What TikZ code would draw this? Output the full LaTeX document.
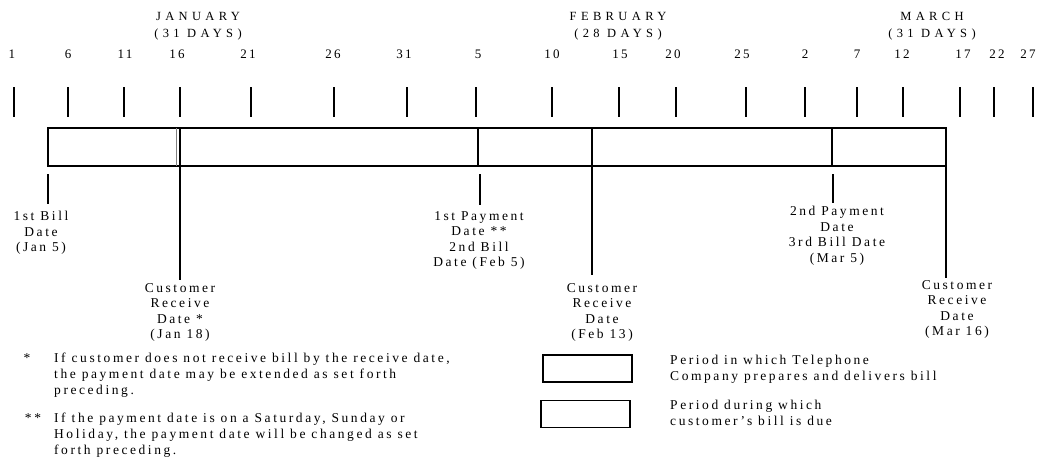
\documentclass[tikz,border=0pt]{standalone}
\usepackage{fontspec}
\setmainfont{Liberation Serif}
\newfontfamily\spacedfont[LetterSpace=19]{Liberation Serif}
\newfontfamily\monthfont[LetterSpace=35]{Liberation Serif}
\usetikzlibrary{positioning}

\begin{document}
\begin{tikzpicture}[x=1pt, y=-1pt,
    month/.style={font=\monthfont\fontsize{12.5}{17}\selectfont, align=center, inner sep=0pt, anchor=north},
    daynum/.style={font=\spacedfont\fontsize{13}{15}\selectfont, inner sep=0pt, anchor=base},
    datelabel/.style={font=\spacedfont\fontsize{13.5}{15.5}\selectfont, align=center, inner sep=0pt, anchor=north},
    note/.style={font=\spacedfont\fontsize{13.5}{16}\selectfont, align=left, inner sep=0pt, anchor=north west},
    daytick/.style={line width=1.1pt},
    barline/.style={line width=1.6pt},
    divider/.style={line width=1.2pt},
    legendbox/.style={draw, line width=1.5pt, minimum width=89pt, minimum height=27pt, inner sep=0pt}]

    \useasboundingbox (0,0) rectangle (1041,458);

    % Month headings
    \node[month] (jan) at (198,12) {JANUARY\\(31 DAYS)};
    \node[month] (feb) at (618,12) {FEBRUARY\\(28 DAYS)};
    \node[month] (mar) at (932,12) {MARCH\\(31 DAYS)};

    % Day numbers with their ticks
    \foreach \tx/\nx/\d in {14/12/1, 68/68/6, 124/125/11, 180/177/16, 251/248/21,
        334/333/26, 407/404/31, 476/478/5, 552/552/10, 619/620/15, 676/673/20,
        746/742/25, 805/805/2, 857/857/7, 903/902/12, 960/963/17, 994/997/22, 1033/1028/27} {
        \node[daynum] (day\d) at (\nx,58.5) {\d};
        \draw[daytick] (\tx,87) -- (\tx,117);
    }

    % Billing bar
    \draw[barline] (48,128) rectangle (946,166);
    \draw[thin, gray] (176,128) -- (176,166);
    \foreach \x in {478, 832} {
        \draw[divider] (\x,128) -- (\x,166);
    }

    % Dates marked under the bar
    \coordinate (bill1) at (48,174);
    \coordinate (pay1) at (480,174);
    \coordinate (pay2) at (833,174);
    \coordinate (recv1) at (180,127);
    \coordinate (recv2) at (592,128);
    \coordinate (recv3) at (946,128);

    \node[datelabel] (billlbl) at (41,211) {1st Bill\\Date\\(Jan 5)};
    \node[datelabel] (pay1lbl) at (479,211) {1st Payment\\Date **\\2nd Bill\\Date (Feb 5)};
    \node[datelabel] (pay2lbl) at (837,206) {2nd Payment\\Date\\3rd Bill Date\\(Mar 5)};
    \node[datelabel] (recv1lbl) at (180,283) {Customer\\Receive\\Date *\\(Jan 18)};
    \node[datelabel] (recv2lbl) at (602,283) {Customer\\Receive\\Date\\(Feb 13)};
    \node[datelabel] (recv3lbl) at (957,280) {Customer\\Receive\\Date\\(Mar 16)};

    \draw[daytick] (bill1) -- ([yshift=7pt]bill1 |- billlbl.north);
    \draw[daytick] (pay1) -- ([yshift=6pt]pay1 |- pay1lbl.north);
    \draw[daytick] (pay2) -- ([yshift=3pt]pay2 |- pay2lbl.north);
    \draw[divider] (recv1) -- ([yshift=3pt]recv1 |- recv1lbl.north);
    \draw[divider] (recv2) -- ([yshift=8pt]recv2 |- recv2lbl.north);
    \draw[divider] (recv3) -- ([yshift=2pt]recv3 |- recv3lbl.north);

    % Footnotes
    \node[note, anchor=base] (star1) at (27,362) {*};
    \node[note] (fn1) at (54,353) {If customer does not receive bill by the receive date,\\the payment date may be extended as set forth\\preceding.};
    \node[note, anchor=base] (star2) at (33,422) {**};
    \node[note] (fn2) at (54,413) {If the payment date is on a Saturday, Sunday or\\Holiday, the payment date will be changed as set\\forth preceding.};

    % Legend
    \node[legendbox] (prepbox) at (587.5,368.5) {};
    \node[legendbox] (duebox) at (585.5,414) {};
    \node[note] (preptext) at (670,355) {Period in which Telephone\\Company prepares and delivers bill};
    \node[note] (duetext) at (670,400) {Period during which\\customer’s bill is due};
\end{tikzpicture}
\end{document}
